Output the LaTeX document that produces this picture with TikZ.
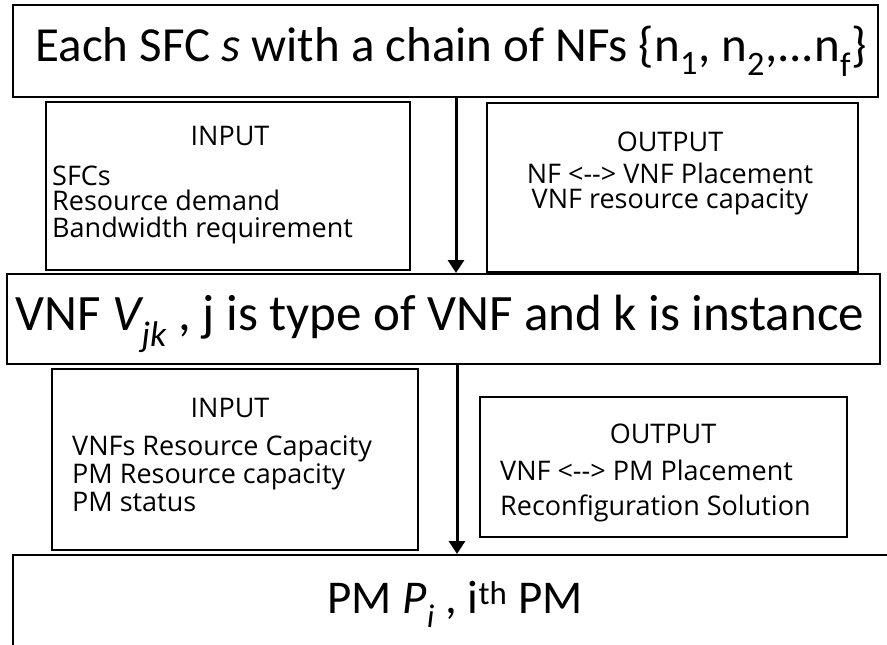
\documentclass[tikz,border=0pt]{standalone}
\usepackage{fontspec}
\setmainfont{Carlito}
\newfontfamily\listfont{Open Sans}
\usetikzlibrary{arrows.meta}

\begin{document}
\begin{tikzpicture}[x=1pt,y=-1pt,
  bigbox/.style={draw, line width=2pt, inner sep=0pt},
  smallbox/.style={draw, line width=1.6pt, inner sep=0pt},
  title/.style={font=\fontsize{49}{56}\selectfont, inner sep=0pt},
  bigtitle/.style={font=\fontsize{51}{58}\selectfont, inner sep=0pt},
  pmtitle/.style={font=\fontsize{47}{54}\selectfont, inner sep=0pt},
  entry/.style={font=\listfont\fontsize{27}{30}\selectfont, inner sep=0pt},
  flow/.style={line width=3pt, -{Triangle[width=16pt,length=13pt]}}]
\useasboundingbox (0,0) rectangle (887,645);

% stage boxes
\node[bigbox, minimum width=865pt, minimum height=92pt] (sfc) at (445.5,51) {};
\node[bigbox, minimum width=873pt, minimum height=90pt] (vnf) at (443.5,319) {};
\node[bigbox, minimum width=887pt, minimum height=125pt] (pm) at (456.5,617.5) {};

\node[title, anchor=mid] (sfctext) at (451,59)
  {Each SFC \textit{s} with a chain of NFs \{n\textsubscript{1}, n\textsubscript{2},...n\textsubscript{f}\}};
\node[bigtitle, anchor=mid] (vnftext) at (440,328)
  {VNF \textit{V\textsubscript{jk}} , j is type of VNF and k is instance};
\node[pmtitle, anchor=mid] (pmtext) at (455,611)
  {PM \textit{P\textsubscript{i}} , i\textsuperscript{th} PM};

% input / output boxes between the stages
\node[smallbox, minimum width=364pt, minimum height=168pt] (in1) at (228,186) {};
\node[smallbox, minimum width=371pt, minimum height=169pt] (out1) at (672.5,187.5) {};
\node[smallbox, minimum width=366pt, minimum height=181pt] (in2) at (235,459.5) {};
\node[smallbox, minimum width=367pt, minimum height=140pt] (out2) at (663.5,467) {};

\node[entry, anchor=mid] (in1h) at (230,143) {INPUT};
\node[entry, anchor=mid west] (in1a) at (52,183) {SFCs};
\node[entry, anchor=mid west] (in1b) at (52,208) {Resource demand};
\node[entry, anchor=mid west] (in1c) at (52,235) {Bandwidth requirement};

\node[entry, anchor=mid] (out1h) at (670,149) {OUTPUT};
\node[entry, anchor=mid] (out1a) at (670,181) {NF <-{}-> VNF Placement};
\node[entry, anchor=mid] (out1b) at (670,206) {VNF resource capacity};

\node[entry, anchor=mid] (in2h) at (230,415) {INPUT};
\node[entry, anchor=mid west] (in2a) at (72,453) {VNFs Resource Capacity};
\node[entry, anchor=mid west] (in2b) at (72,481) {PM Resource capacity};
\node[entry, anchor=mid west] (in2c) at (72,509) {PM status};

\node[entry, anchor=mid] (out2h) at (663,441) {OUTPUT};
\node[entry, anchor=mid west] (out2a) at (500,478) {VNF <-{}-> PM Placement};
\node[entry, anchor=mid west] (out2b) at (500,513) {Reconfiguration Solution};

% flow between the stages
\coordinate (axis1) at (456,0);
\coordinate (axis2) at (457,0);
\draw[flow] (sfc.south -| axis1) -- (vnf.north -| axis1);
\draw[flow] (vnf.south -| axis2) -- (pm.north -| axis2);
\end{tikzpicture}
\end{document}
